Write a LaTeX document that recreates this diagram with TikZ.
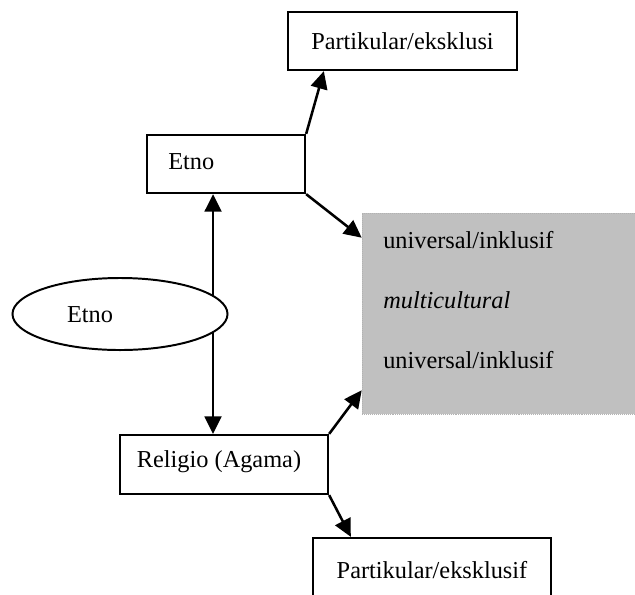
\documentclass[tikz,border=0pt]{standalone}
\usepackage{fontspec}
\setmainfont{Liberation Serif}
\usetikzlibrary{arrows.meta,shapes.geometric,calc}
\definecolor{boxgray}{HTML}{C0C0C0}

\begin{document}
\begin{tikzpicture}[x=0.025cm,y=-0.025cm,
    font=\fontsize{17.3}{20}\selectfont,
    box/.style={draw,line width=1.6pt,inner sep=0pt,fill=white},
    tip/.tip={Triangle[length=0.44cm,width=0.42cm]},
    arr/.style={line width=1.8pt,-tip},
    ]
    \useasboundingbox (0,0) rectangle (635,594);
    \clip (0,0) rectangle (635,594);
    % boxes
    \node[box,minimum width=5.725cm,minimum height=1.45cm] (partA) at (402.5,41) {Partikular/eksklusi};
    \node[box,minimum width=3.95cm,minimum height=1.45cm] (etno) at (226,164) {};
    \node[anchor=west,inner sep=0pt] (etnotxt) at (168,162) {Etno};
    \node[draw=gray!60,densely dotted,fill=boxgray,minimum width=6.825cm,minimum height=5.025cm,inner sep=0pt] (gray) at (498.5,313.5) {};
    \node[anchor=west,inner sep=0pt] (univA) at (383,240) {universal/inklusif};
    \node[anchor=west,inner sep=0pt] (multi) at (383,300) {\itshape multicultural};
    \node[anchor=west,inner sep=0pt] (univB) at (383,360) {universal/inklusif};
    \node[box,minimum width=5.2cm,minimum height=1.475cm] (religio) at (224,464.5) {};
    \node[inner sep=0pt] (religiotxt) at (219,462) {Religio (Agama)};
    \node[box,minimum width=5.95cm,minimum height=1.6cm] (partB) at (432,570) {Partikular/eksklusif};
    % arrows
    \coordinate (axis) at (213,0);
    \draw[arr] (etno.north east) -- ($(partA.south west)+(37,0)$);
    \draw[arr] (etno.south east) -- ($(gray.north west)+(0,25)$);
    \draw[arr] (religio.north east) -- ($(gray.south west)+(0,-24)$);
    \draw[arr] (religio.south east) -- ($(partB.north west)+(39,0)$);
    \draw[arr,tip-tip] (etno.south -| axis) -- (religio.north -| axis);
    % ellipse over the axis
    \node[ellipse,draw,line width=1.4pt,fill=white,minimum width=5.375cm,minimum height=1.8cm,inner sep=0pt] (etnoell) at (120,314) {};
    \node[inner sep=0pt] (etnoelltxt) at (90,315) {Etno};
\end{tikzpicture}
\end{document}
